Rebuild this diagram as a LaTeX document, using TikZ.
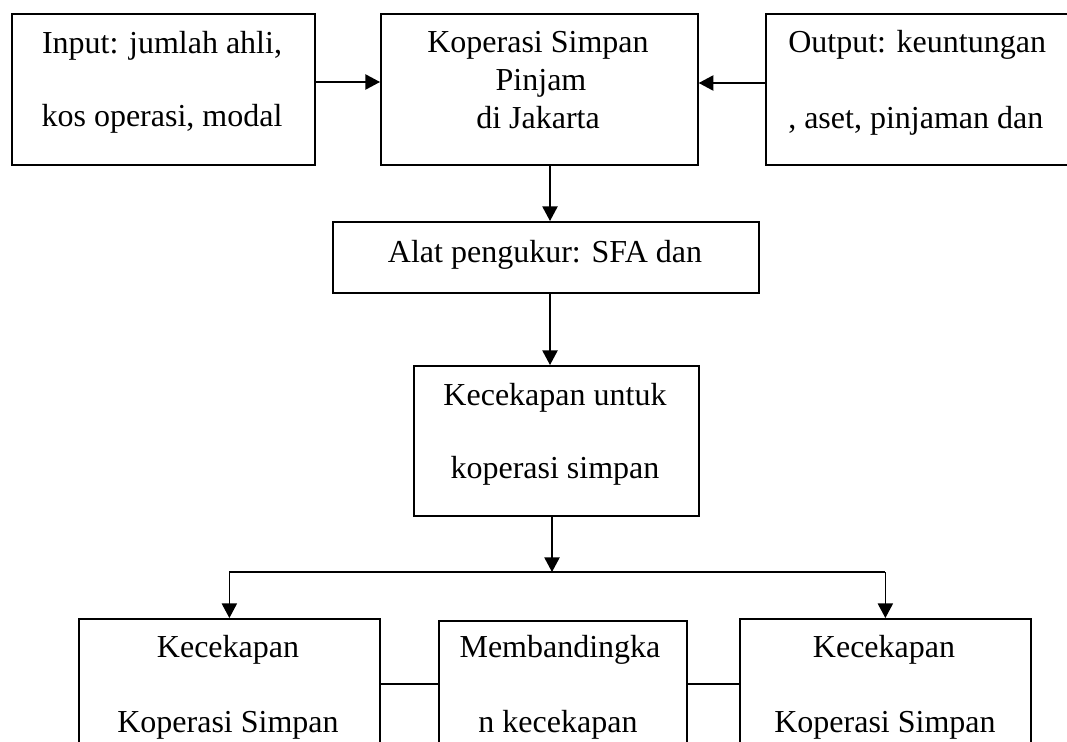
\documentclass[tikz,border=0pt]{standalone}
\usepackage{fontspec}
\setmainfont{Liberation Serif}
\usetikzlibrary{arrows.meta,calc}
\begin{document}
\begin{tikzpicture}[x=0.75pt,y=-0.75pt,
  box/.style={draw=black,line width=1.3pt,rectangle,inner sep=0pt,anchor=north west},
  txt/.style={font=\fontsize{24pt}{28pt}\selectfont,inner sep=0pt,anchor=base},
  txtl/.style={txt,anchor=base west},
  link/.style={draw=black,line width=1pt},
  arr/.style={link,-{Triangle[length=11pt,width=11.5pt]}}]
\useasboundingbox (0,0) rectangle (1067,742);
\clip (0,0) rectangle (1067,742);
\fill[white] (0,0) rectangle (1067,742);
% boxes
\node[box,minimum width=227.25pt,minimum height=113.25pt] (inp) at (11,13) {};
\node[box,minimum width=237.75pt,minimum height=113.25pt] (kop) at (380,13) {};
\node[box,minimum width=240pt,minimum height=113.25pt] (out) at (765,13) {};
\node[box,minimum width=319.5pt,minimum height=53.25pt] (alat) at (332,221) {};
\node[box,minimum width=213.75pt,minimum height=112.5pt] (kec) at (413,365) {};
\node[box,minimum width=225.75pt,minimum height=150pt] (bl) at (78,618) {};
\node[box,minimum width=186pt,minimum height=150pt] (bm) at (438,620) {};
\node[box,minimum width=218.25pt,minimum height=150pt] (br) at (739,618) {};
% texts
\node[txt] (t1) at (162,54) {Input: jumlah ahli,};
\node[txt] (t2) at (162,127) {kos operasi, modal};
\node[txt] (t3) at (538,53) {Koperasi Simpan};
\node[txt] (t4) at (541,90) {Pinjam};
\node[txt] (t5) at (538,128) {di Jakarta};
\node[txtl] (t6) at (788,53) {Output: keuntungan};
\node[txtl] (t7) at (788,128) {, aset, pinjaman dan};
\node[txt] (t8) at (545,262) {Alat pengukur: SFA dan};
\node[txt] (t9) at (555,405) {Kecekapan untuk};
\node[txt] (t10) at (555,478) {koperasi simpan};
\node[txt] (t11) at (228,657) {Kecekapan};
\node[txt] (t12) at (228,732) {Koperasi Simpan};
\node[txt] (t13) at (560,657) {Membandingka};
\node[txt] (t14) at (558,732) {n kecekapan};
\node[txt] (t15) at (884,657) {Kecekapan};
\node[txt] (t16) at (885,732) {Koperasi Simpan};
% helper coordinates
\coordinate (cx) at (550,0);
\coordinate (cx2) at (552,0);
\coordinate (hub) at (0,572);
\coordinate (row) at (0,684);
\coordinate (r1) at (0,82);
\coordinate (r2) at (0,83);
% connectors
\draw[arr] (inp.east |- r1) -- (kop.west |- r1);
\draw[arr] (out.west |- r2) -- (kop.east |- r2);
\draw[arr] (kop.south -| cx) -- (alat.north -| cx);
\draw[arr] (alat.south -| cx) -- (kec.north -| cx);
\draw[arr] (kec.south -| cx2) -- (cx2 |- hub);
\draw[link] (bl.north |- hub) -- (br.north |- hub);
\draw[arr] (bl.north |- hub) -- (bl.north);
\draw[arr] (br.north |- hub) -- (br.north);
\draw[link] (bl.east |- row) -- (bm.west |- row);
\draw[link] (bm.east |- row) -- (br.west |- row);
\end{tikzpicture}
\end{document}
